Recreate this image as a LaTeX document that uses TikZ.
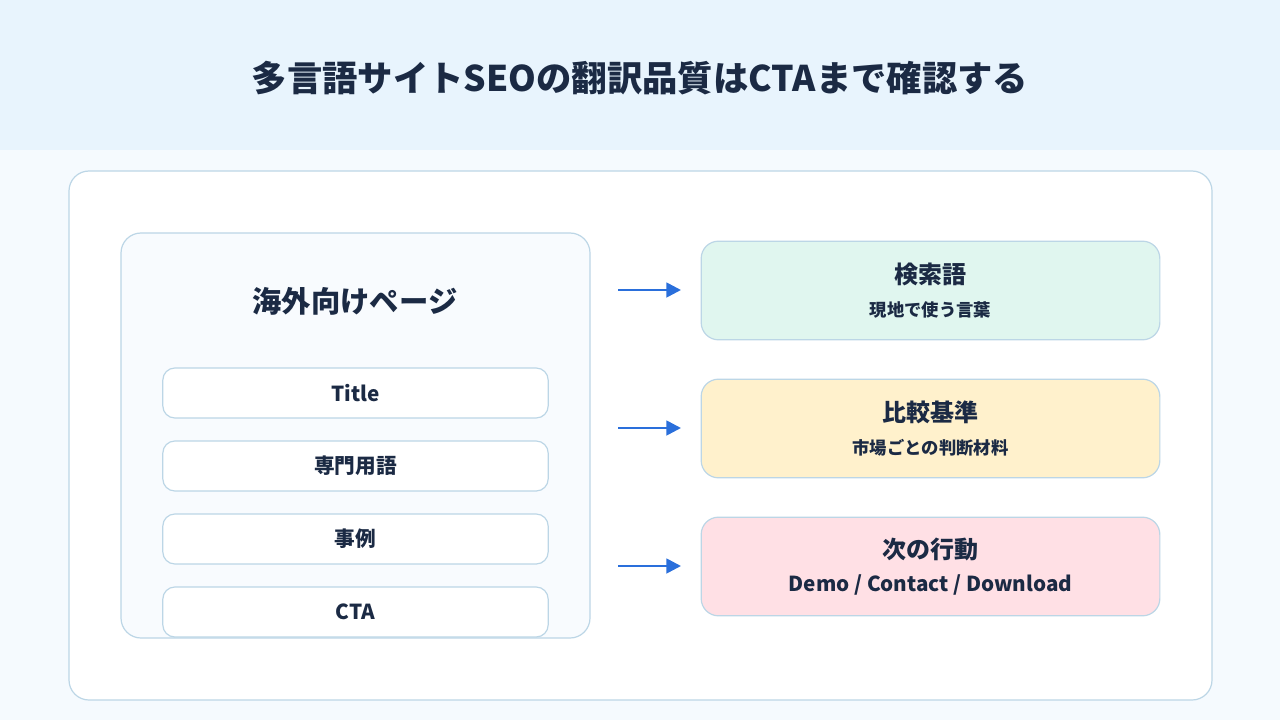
\documentclass[tikz,border=0pt]{standalone}
\usepackage{fontspec}
\setmainfont{Noto Sans CJK JP}
\usetikzlibrary{positioning,arrows.meta}
\definecolor{ink}{HTML}{1B2A44}
\definecolor{edge}{HTML}{BCD6E6}
\definecolor{arrowblue}{HTML}{2A6FDB}
\begin{document}
\begin{tikzpicture}[x=0.75pt,y=-0.75pt,
  item/.style={shape=rectangle,draw=edge,fill=white,rounded corners=9pt,line width=0.9pt,minimum width=289pt,minimum height=37.5pt,font=\fontsize{15.5}{18}\bfseries,text=ink},
  goal/.style={shape=rectangle,draw=edge,rounded corners=13pt,line width=0.9pt,minimum width=344pt,minimum height=74pt,align=center,text=ink,font=\fontsize{18}{25}\bfseries},
  flow/.style={-{Triangle[length=11pt,width=11pt]},draw=arrowblue,line width=2pt}]
\fill[fill={rgb,255:red,245;green,250;blue,254}] (0,0) rectangle (1280,720);
\fill[fill={rgb,255:red,232;green,244;blue,253}] (0,0) rectangle (1280,150);
\node[text=ink,font=\fontsize{26.5}{30}\bfseries] (title) at (640,78) {多言語サイトSEOの翻訳品質はCTAまで確認する};
\draw[draw=edge,fill=white,rounded corners=15pt,line width=0.9pt] (69,171) rectangle (1212,700);
\draw[draw=edge,fill={rgb,255:red,248;green,251;blue,254},rounded corners=15pt,line width=0.9pt] (121,233) rectangle (590,638);
\node[text=ink,font=\fontsize{22}{25}\bfseries] (page) at (355,301) {海外向けページ};
\node[item] (0) at (355.5,393) {Title};
\node[item] (1) at (355.5,466) {専門用語};
\node[item] (2) at (355.5,539) {事例};
\node[item] (3) at (355.5,612) {CTA};
\node[goal,fill={rgb,255:red,224;green,246;blue,239}] (4) at (930.5,290.5) {検索語\\{\fontsize{13}{16}\selectfont 現地で使う言葉}};
\node[goal,fill={rgb,255:red,255;green,241;blue,204}] (5) at (930.5,428.5) {比較基準\\{\fontsize{13}{16}\selectfont 市場ごとの判断材料}};
\node[goal,fill={rgb,255:red,255;green,224;blue,229}] (6) at (930.5,566.5) {次の行動\\{\fontsize{15.5}{18}\selectfont Demo / Contact / Download}};
\coordinate (a0) at (618,290); \coordinate (a1) at (618,428); \coordinate (a2) at (618,566);
\coordinate (b0) at (681,290); \coordinate (b1) at (681,428); \coordinate (b2) at (681,566);
\draw[flow] (a0) -- (b0);
\draw[flow] (a1) -- (b1);
\draw[flow] (a2) -- (b2);
\end{tikzpicture}
\end{document}
